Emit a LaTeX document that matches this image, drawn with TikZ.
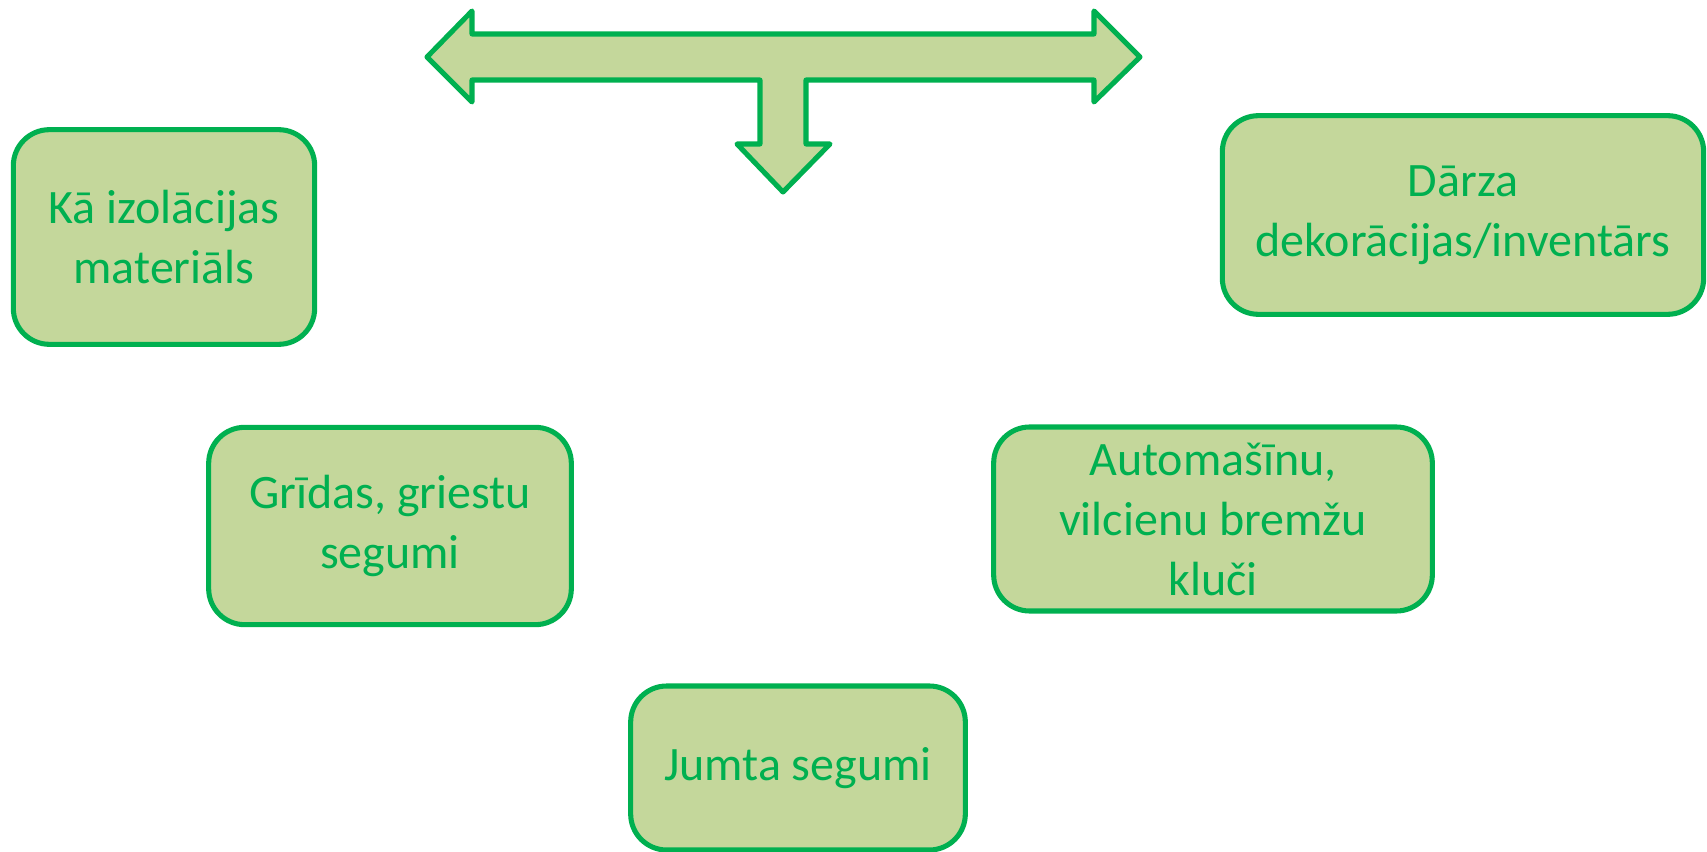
\documentclass[tikz,border=0pt]{standalone}
\usepackage{fontspec}
\setmainfont{Carlito}
\usepackage{tikz}
\usetikzlibrary{positioning}
\definecolor{leafgreen}{HTML}{00B050}
\definecolor{palegreen}{HTML}{C4D79B}
\tikzstyle{usebox} = [rectangle, rounded corners=27pt, text centered, align=center, draw=leafgreen, line width=3.8pt, fill=palegreen, text=leafgreen, font=\fontsize{36}{45}\selectfont]
\tikzstyle{bigarrow} = [draw=leafgreen, line width=3.8pt, fill=palegreen, line join=round]

\begin{document}
\begin{tikzpicture}[x=0.75pt, y=-0.75pt]
\useasboundingbox (0,0) rectangle (1707,852);

% Arrow
\draw [bigarrow] (427,57) -- (472,11) -- (472,34) -- (1094,34) -- (1094,11) -- (1140,57)
  -- (1094,102) -- (1094,80) -- (806,80) -- (806,144) -- (830,144) -- (783,192)
  -- (737,144) -- (760,144) -- (760,80) -- (472,80) -- (472,102) -- cycle;

% Nodes
\node (insul) [usebox, minimum width=226pt, minimum height=161pt] at (164,237) {Kā izolācijas\\materiāls};
\node (garden) [usebox, minimum width=361pt, minimum height=149pt] at (1463,215) {Dārza\\dekorācijas/inventārs};
\node (floor) [usebox, minimum width=272pt, minimum height=148pt] at (390,526) {Grīdas, griestu\\segumi};
\node (brakes) [usebox, minimum width=329pt, minimum height=138pt] at (1213,519) {Automašīnu,\\vilcienu bremžu\\kluči};
\node (roof) [usebox, minimum width=251pt, minimum height=123pt] at (798,768) {Jumta segumi};

\end{tikzpicture}
\end{document}
